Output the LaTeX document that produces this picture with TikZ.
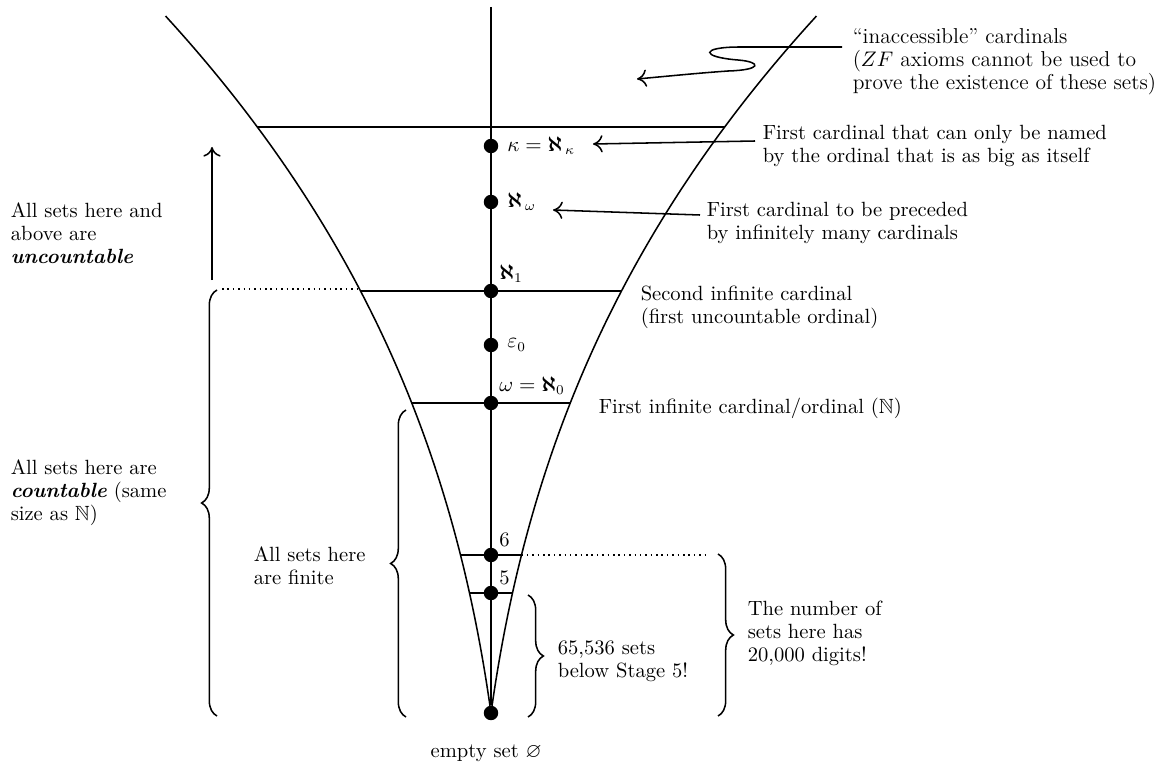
\documentclass[tikz,border=0pt]{standalone}
\usepackage{amsmath}
\usepackage{amssymb}
\usepackage{tikz}
\usetikzlibrary{arrows.meta, positioning, decorations.pathreplacing}

\begin{document}
\begin{tikzpicture}[x=0.52pt, y=-0.52pt, line width=0.8pt,
  font=\fontsize{10.7}{12}\selectfont,
  declare function={fd(\u)=14*\u+2.962*\u^2+0.2481*\u^3;},
  dot/.style={circle, fill=black, inner sep=0pt, minimum size=7.5pt},
  lab/.style={inner sep=1pt},
  txt/.style={align=left, anchor=west, inner sep=0pt},
  arr/.style={-{To[length=5pt,width=9pt]}, line width=0.8pt},
  brc/.style={decorate, decoration={brace, amplitude=8pt}}
]
  \useasboundingbox (0,0) rectangle (1172,763);

  \draw plot[domain=0:6.97, samples=60, smooth] ({491-fd(\x)},{713-100*\x});
  \draw plot[domain=0:6.97, samples=60, smooth] ({491+fd(\x)},{713-100*\x});
  \foreach \yy in {127,291,403,555,593}
    \draw ({491-fd((713-\yy)/100)},\yy) -- ({491+fd((713-\yy)/100)},\yy);

  \node[dot] (d0) at (491,713) {};
  \node[dot] (d5) at (491,593) {};
  \node[dot] (d6) at (491,555) {};
  \node[dot] (dw) at (491,403) {};
  \node[dot] (de) at (491,345) {};
  \node[dot] (d1) at (491,291) {};
  \node[dot] (dom) at (491,202) {};
  \node[dot] (dk) at (491,146) {};
  \coordinate (top) at (491,7);
  \draw (top) -- (d0);

  \node[lab, right=3pt of dk] (klab) {$\kappa=\boldsymbol{\aleph}_{\,\kappa}$};
  \node[lab, right=3pt of dom] (omlab) {$\boldsymbol{\aleph}_{\,\omega}$};
  \node[lab, above right=0pt and 0pt of d1] (onelab) {$\boldsymbol{\aleph}_1$};
  \node[lab, right=3pt of de] (elab) {$\varepsilon_0$};
  \node[lab, above right=0pt and 0pt of dw] (wlab) {$\omega=\boldsymbol{\aleph}_0$};
  \node[lab, above right=0pt and 0pt of d6] (sixlab) {6};
  \node[lab, above right=0pt and 0pt of d5] (fivelab) {5};
  \node[lab, below=11pt of d0, xshift=-2.5pt] (emp) {empty set $\varnothing$};

  \node[txt, font=\fontsize{11.2}{12}\selectfont] (inac) at (852,62) {“inaccessible” cardinals\\($ZF$ axioms cannot be used to\\prove the existence of these sets)};
  \node[txt] (fc) at (762,146) {First cardinal that can only be named\\by the ordinal that is as big as itself};
  \node[txt] (pc) at (706,223) {First cardinal to be preceded\\by infinitely many cardinals};
  \node[txt] (sc) at (640,307) {Second infinite cardinal\\(first uncountable ordinal)};
  \node[txt] (fi) at (598,408) {First infinite cardinal/ordinal ($\mathbb{N}$)};
  \node[txt] (unc) at (10,233) {All sets here and\\above are\\\textbf{\textit{uncountable}}};
  \node[txt] (cnt) at (10,493) {All sets here are\\\textbf{\textit{countable}} (same\\size as $\mathbb{N}$)};
  \node[txt] (fin) at (253,566) {All sets here\\are finite};
  \node[txt] (st5) at (557,661) {65,536 sets\\below Stage 5!};
  \node[txt] (dig) at (747,633) {The number of\\sets here has\\20,000 digits!};

  \coordinate (itip) at (637,79);
  \coordinate (ktip) at (593,144);
  \coordinate (wtip) at (553,210);
  \coordinate (upb) at (212,280);
  \coordinate (upt) at (212,147);

  \draw[arr] ([shift={(-10,-15)}]inac.west) -- (740,47)
    .. controls (700,47) and (700,57) .. (738,60)
    .. controls (762,62) and (762,70) .. (728,71)
    .. controls (700,73) and (680,75) .. (itip);
  \draw[arr] ([shift={(-7,-5)}]fc.west) -- (ktip);
  \draw[arr] ([shift={(-6,-8)}]pc.west) -- (wtip);
  \draw[arr] (upb) -- (upt);

  \draw[dotted] (222,289) -- ({491-fd(4.22)},289);
  \draw[dotted] ({491+fd(1.58)},555) -- (708,555);

  \draw[brc] (217,716) -- (217,290);
  \draw[brc] (406,717) -- (406,410);
  \draw[brc] (528,595) -- (528,717);
  \draw[brc] (718,554) -- (718,716);
\end{tikzpicture}
\end{document}
